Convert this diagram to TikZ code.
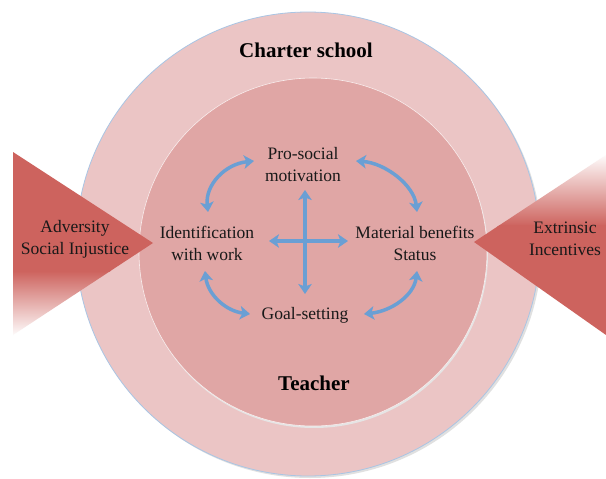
\documentclass[tikz,border=0pt]{standalone}
\usepackage{fontspec}
\setmainfont{Liberation Serif}
\usetikzlibrary{arrows.meta}
\definecolor{outerfill}{HTML}{EBC5C5}
\definecolor{innerfill}{HTML}{E0A6A5}
\definecolor{trired}{HTML}{CD635E}
\definecolor{arrblue}{HTML}{6A9FD4}
\definecolor{rimblue}{HTML}{A9C5E4}
\tikzset{
  lbl/.style={align=center, font=\fontsize{17.5}{22}\selectfont, text=black!90, inner sep=0pt},
  title/.style={font=\fontsize{21}{24}\selectfont\bfseries, text=black, inner sep=0pt},
  link/.style={draw=arrblue, line width=3.5pt,
    {Stealth[length=10pt,width=13.5pt,inset=2.5pt]}-{Stealth[length=10pt,width=13.5pt,inset=2.5pt]}},
}
\begin{document}
\begin{tikzpicture}[x=1pt,y=-1pt]
\useasboundingbox (0,0) rectangle (606,479);
\fill[white] (0,0) rectangle (606,479);
% outer circle
\fill[black!12] (310,246) circle (232);
\filldraw[fill=outerfill, draw=rimblue, line width=0.8pt] (308,244) circle (232);
% inner circle
\fill[black!10] (314,254) circle (174);
\filldraw[fill=innerfill, draw=white!80!innerfill, line width=0.6pt] (313,252) circle (174);
% left triangle
\begin{scope}
\clip (13,152) -- (153,243) -- (13,335) -- cycle;
\fill[trired] (0,150) rectangle (160,272);
\shade[top color=trired, bottom color=white] (0,271) rectangle (160,337);
\end{scope}
% right triangle
\begin{scope}
\clip (606,155) -- (474,242) -- (606,335) -- cycle;
\shade[top color=white, bottom color=trired] (470,153) rectangle (606,226);
\fill[trired] (470,225) rectangle (606,337);
\end{scope}
% texts
\node[title] (school) at (306,50) {Charter school};
\node[title] (teacher) at (314,383) {Teacher};
\node[lbl] (pro) at (303,165) {Pro-social\\motivation};
\node[lbl] (ident) at (207,243) {Identification\\with work};
\node[lbl] (mat) at (415,243) {Material benefits\\Status};
\node[lbl] (goal) at (305,315) {Goal-setting};
\node[lbl] (adv) at (75,239) {Adversity\\Social Injustice};
\node[lbl] (ext) at (565,239) {Extrinsic\\Incentives};
% arrow end points
\coordinate (a1) at (208,212);
\coordinate (a2) at (254,161);
\coordinate (b1) at (356,161);
\coordinate (b2) at (417,212);
\coordinate (c1) at (205,271);
\coordinate (c2) at (250,314);
\coordinate (d1) at (364,314);
\coordinate (d2) at (417,271);
\coordinate (v1) at (305,190);
\coordinate (v2) at (305,294);
\coordinate (h1) at (269,241);
\coordinate (h2) at (348,241);
\draw[link] (a1) .. controls (205,185) and (225,164) .. (a2);
\draw[link] (b1) .. controls (385,163) and (414,185) .. (b2);
\draw[link] (c1) .. controls (208,295) and (226,311) .. (c2);
\draw[link] (d1) .. controls (392,311) and (414,295) .. (d2);
\draw[link] (v1) -- (v2);
\draw[link] (h1) -- (h2);
\end{tikzpicture}
\end{document}
